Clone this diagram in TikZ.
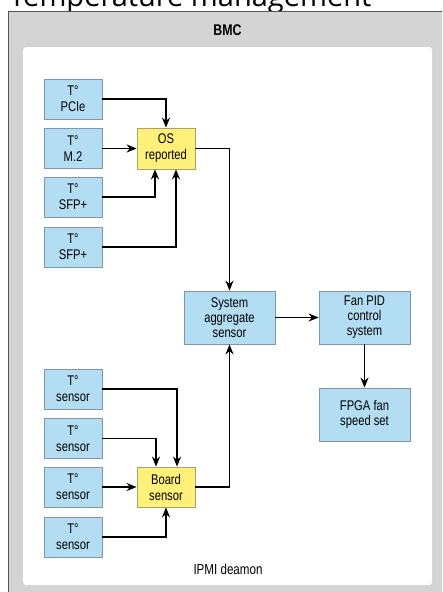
\documentclass[tikz,border=0pt]{standalone}
\usepackage{fontspec}
\setmainfont{Liberation Sans}
\newfontfamily\titlefont{Open Sans}
\newfontfamily\narrowfont{Liberation Sans}[FakeStretch=0.8]
\usetikzlibrary{arrows.meta}
\definecolor{bgray}{HTML}{D4D4D4}
\definecolor{bdark}{HTML}{555555}
\definecolor{boxblue}{HTML}{B3DDF2}
\definecolor{boxline}{HTML}{7F97A6}
\definecolor{boxyellow}{HTML}{FFF07A}
\definecolor{yline}{HTML}{A8A070}
\tikzset{
  box/.style={draw=boxline, line width=0.8pt, fill=boxblue, minimum width=58, minimum height=40, align=center, inner sep=0pt,
    font=\narrowfont\fontsize{14}{16}\selectfont},
  ybox/.style={box, fill=boxyellow, draw=yline},
  wbox/.style={box, minimum width=91, minimum height=53, font=\narrowfont\fontsize{14}{15}\selectfont},
  arr/.style={line width=1.8pt, -{Stealth[length=10pt,width=8pt]}},
}
\begin{document}
\begin{tikzpicture}[x=1pt,y=-1pt]
\useasboundingbox (0,0) rectangle (442,592);
\clip (0,0) rectangle (442,592);
\fill[white] (0,0) rectangle (442,592);
\node[anchor=base west, inner sep=0pt, font=\titlefont\fontsize{29}{29}\selectfont] (title) at (9,6.5) {Temperature management};
\path[fill=bgray] (8.5,11.5) rectangle (445,600);
\draw[bdark, line width=1pt] (8.5,600) -- (8.5,11.5) -- (445,11.5);
\node[font=\narrowfont\bfseries\fontsize{15.5}{15.5}\selectfont] (bmc) at (227.5,30) {BMC};
\fill[white, rounded corners=3pt] (23,47) rectangle (432,585);
\node (pcie) [box] at (73,99) {T°\\PCIe};
\node (m2) [box] at (73,148.5) {T°\\M.2};
\node (sfpa) [box] at (73,197) {T°\\SFP+};
\node (sfpb) [box] at (73,247) {T°\\SFP+};
\node (os) [ybox, minimum height=41] at (166,148.5) {OS\\reported};
\node (sys) [wbox] at (229.5,317.5) {System\\aggregate\\sensor};
\node (fan) [wbox] at (364.5,317.5) {Fan PID\\control\\system};
\node (fpga) [wbox] at (364.5,414.5) {FPGA fan\\speed set};
\node (sa) [box] at (73,389) {T°\\sensor};
\node (sb) [box] at (73,438.5) {T°\\sensor};
\node (sc) [box] at (73,487) {T°\\sensor};
\node (sd) [box] at (73,537) {T°\\sensor};
\node (board) [ybox] at (166,487) {Board\\sensor};
\node (ipmi) [font=\narrowfont\fontsize{14.5}{14.5}\selectfont] at (228,569) {IPMI deamon};
\draw[arr] (pcie.east) -| (os.north);
\draw[arr] (m2.east) -- (os.west);
\draw[arr] (sfpa.east) -| ([xshift=-11pt]os.south);
\draw[arr] (sfpb.east) -| ([xshift=10pt]os.south);
\draw[arr] (os.east) -| (sys.north);
\draw[arr] (sys.east) -- (fan.west);
\draw[arr] (fan.south) -- (fpga.north);
\draw[arr] (sa.east) -| ([xshift=11pt]board.north);
\draw[arr] (sb.east) -| ([xshift=-10pt]board.north);
\draw[arr] (sc.east) -- (board.west);
\draw[arr] (sd.east) -| (board.south);
\draw[arr] (board.east) -| (sys.south);
\end{tikzpicture}
\end{document}
